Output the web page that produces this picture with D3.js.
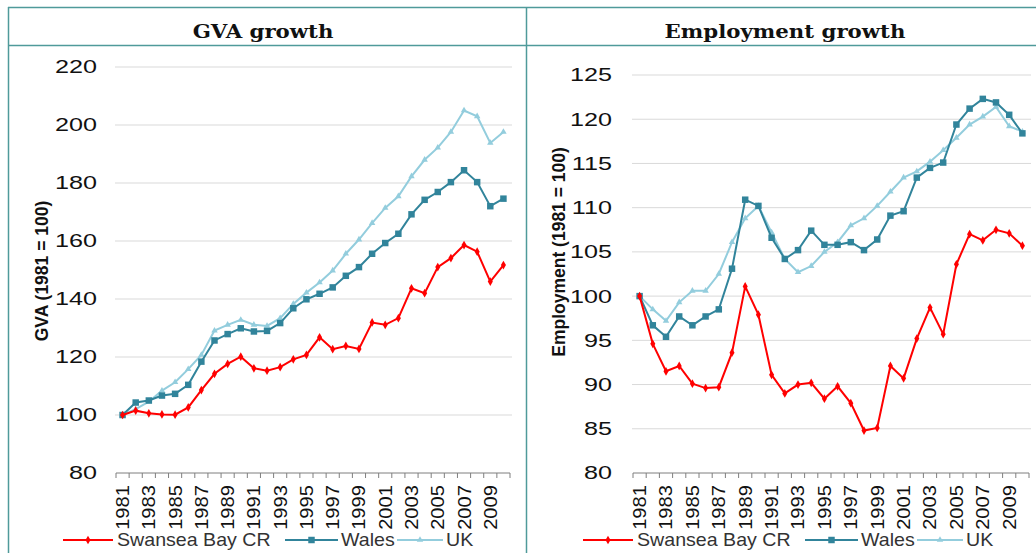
<!DOCTYPE html>
<html><head><meta charset="utf-8">
<script src="https://cdn.jsdelivr.net/npm/d3@7"></script>
<style>body{margin:0;background:#fff}svg{display:block}</style>
</head><body>
<svg id="c" width="1036" height="553"></svg>
<script>
const years = d3.range(1981, 2011);
const yearLabels = years.filter((y, i) => i % 2 === 0);
const seriesNames = ["Swansea Bay CR", "Wales", "UK"];
const seriesColors = ["#ff0000", "#31849b", "#93cddd"];

const gvaSwansea = [100,101.5,100.6,100.2,100.1,102.6,108.6,114.2,117.6,120.1,116.1,115.3,116.5,119.2,120.7,126.8,122.7,123.8,122.8,131.9,131.1,133.4,143.7,142.0,151.0,154.1,158.6,156.3,146.0,151.7];
const gvaWales   = [100,104.3,105.0,106.7,107.3,110.4,118.4,125.7,127.9,129.9,128.8,129.0,131.7,136.8,139.9,141.8,144.0,148.0,151.0,155.6,159.3,162.5,169.2,174.2,176.9,180.3,184.4,180.3,172.0,174.6];
const gvaUK      = [100,102.0,104.6,108.4,111.3,115.8,120.7,129.1,131.1,132.8,131.1,130.7,133.4,138.3,142.2,145.7,149.8,155.6,160.5,166.2,171.4,175.4,182.3,188.0,192.2,197.6,205.0,203.0,193.8,197.6];

const empSwansea = [100,94.6,91.5,92.1,90.1,89.6,89.7,93.6,101.1,97.9,91.1,89.0,90.0,90.2,88.4,89.8,87.9,84.8,85.1,92.1,90.7,95.2,98.7,95.7,103.6,107.0,106.3,107.5,107.1,105.7];
const empWales   = [100,96.7,95.4,97.7,96.7,97.7,98.5,103.1,110.9,110.2,106.6,104.2,105.2,107.4,105.8,105.8,106.1,105.2,106.4,109.1,109.6,113.4,114.5,115.1,119.4,121.2,122.3,121.9,120.5,118.4];
const empUK      = [100,98.5,97.2,99.3,100.6,100.6,102.5,106.1,108.8,110.2,107.2,104.2,102.7,103.4,105.0,106.1,108.0,108.8,110.2,111.8,113.4,114.1,115.2,116.5,117.9,119.4,120.3,121.4,119.2,118.6];

const gvaTicks = d3.range(80, 221, 20);
const empTicks = d3.range(80, 126, 5);

const svg = d3.select("#c");
const border = "#4f9a9a";

// frame
svg.append("line").attr("x1",8).attr("x2",1036).attr("y1",7.5).attr("y2",7.5).attr("stroke",border).attr("stroke-width",1.5);
svg.append("line").attr("x1",8).attr("x2",1036).attr("y1",45.5).attr("y2",45.5).attr("stroke",border).attr("stroke-width",1.5);
[8.5, 526.5].forEach(x => svg.append("line").attr("x1",x).attr("x2",x).attr("y1",7).attr("y2",553).attr("stroke",border).attr("stroke-width",1.5));

const panels = [
  {title:"GVA growth", tx:263, ylabel:"GVA (1981 = 100)", lx:42, ly:271, x0:116, x1:510, y0:473, y1:67, domain:[80,220], ticks:gvaTicks, tickX:97,
   data:[gvaSwansea,gvaWales,gvaUK], off:0},
  {title:"Employment growth", tx:785, ylabel:"Employment (1981 = 100)", lx:559, ly:252, x0:633, x1:1029, y0:473, y1:75, domain:[80,125], ticks:empTicks, tickX:612,
   data:[empSwansea,empWales,empUK], off:520}
];

const sans = "Liberation Sans, Arial";

panels.forEach(p => {
  const g = svg.append("g");
  g.append("text").attr("transform",`translate(${p.tx},38) scale(1.12,1)`).attr("text-anchor","middle")
    .attr("font-family","DejaVu Serif").attr("font-weight","bold").attr("font-size",19).attr("fill","#111").text(p.title);

  const x = d3.scaleBand().domain(years).range([p.x0,p.x1]);
  const y = d3.scaleLinear().domain(p.domain).range([p.y0,p.y1]);

  // grid
  g.append("g").selectAll("line").data(p.ticks.filter(t=>t>p.domain[0])).join("line")
    .attr("x1",p.x0-1).attr("x2",p.x1+2).attr("y1",d=>y(d)).attr("y2",d=>y(d))
    .attr("stroke","#d9d9d9").attr("stroke-width",1);

  // y tick labels
  g.append("g").selectAll("text").data(p.ticks).join("text")
    .attr("transform",d=>`translate(${p.tickX},${y(d)}) scale(1.4,1)`).attr("dy","0.36em").attr("text-anchor","end")
    .attr("font-family",sans).attr("font-size",18).attr("fill","#111")
    .text(d=>d);

  // y label
  g.append("text").attr("transform",`translate(${p.lx},${p.ly}) rotate(-90)`)
    .attr("text-anchor","middle").attr("dy","0.35em")
    .attr("font-family",sans).attr("font-weight","bold").attr("font-size",17.5).attr("fill","#111")
    .text(p.ylabel);

  // x axis
  const xa = g.append("g").attr("transform",`translate(0,${p.y0})`);
  xa.append("line").attr("x1",p.x0).attr("x2",p.x1).attr("stroke","#7f7f7f").attr("stroke-width",1);
  const bounds = years.map(v=>x(v)).concat([p.x1]);
  xa.selectAll("line.t").data(bounds).join("line").attr("class","t")
    .attr("x1",d=>d).attr("x2",d=>d).attr("y1",0).attr("y2",5).attr("stroke","#7f7f7f");
  xa.selectAll("text").data(yearLabels).join("text")
    .attr("transform",d=>`translate(${x(d)+x.bandwidth()/2},12) rotate(-90) scale(1.12,1)`)
    .attr("text-anchor","end").attr("dy","0.36em")
    .attr("font-family",sans).attr("font-size",18).attr("fill","#111")
    .text(d=>d);

  const line = d3.line().x((d,i)=>x(years[i])+x.bandwidth()/2).y(d=>y(d));
  [2,1,0].forEach(si => {
    const col = seriesColors[si];
    const vals = p.data[si];
    g.append("path").datum(vals).attr("d",line).attr("fill","none").attr("stroke",col).attr("stroke-width",2);
    const mk = g.append("g").selectAll("path").data(vals).join("path")
      .attr("transform",(d,i)=>`translate(${x(years[i])+x.bandwidth()/2},${y(d)})`)
      .attr("fill",col);
    if (si===0) mk.attr("d",d3.symbol(d3.symbolDiamond,22));
    else if (si===1) mk.attr("d",d3.symbol(d3.symbolSquare,42));
    else mk.attr("d",d3.symbol(d3.symbolTriangle,18));
  });

  // legend
  const lg = g.append("g").attr("transform",`translate(${p.off},540)`);
  const items = [{x1:63,x2:113,tx:117},{x1:285,x2:338,tx:341},{x1:397,x2:443,tx:446}];
  items.forEach((it,si) => {
    lg.append("line").attr("x1",it.x1).attr("x2",it.x2).attr("y1",0).attr("y2",0).attr("stroke",seriesColors[si]).attr("stroke-width",2);
    const m = lg.append("path").attr("transform",`translate(${(it.x1+it.x2)/2},0)`).attr("fill",seriesColors[si]);
    if (si===0) m.attr("d",d3.symbol(d3.symbolDiamond,22)());
    else if (si===1) m.attr("d",d3.symbol(d3.symbolSquare,42)());
    else m.attr("d",d3.symbol(d3.symbolTriangle,18)());
    lg.append("text").attr("transform",`translate(${it.tx},0) scale(1.09,1)`).attr("dy","0.36em")
      .attr("font-family",sans).attr("font-size",18).attr("fill","#333")
      .text(seriesNames[si]);
  });
});
</script>
</body></html>
